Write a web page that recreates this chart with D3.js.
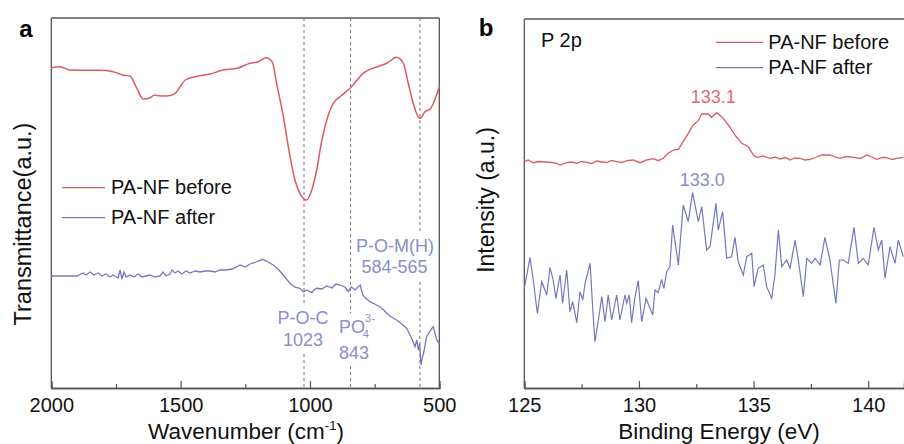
<!DOCTYPE html>
<html>
<head>
<meta charset="utf-8">
<script src="https://cdn.jsdelivr.net/npm/d3@7"></script>
<style>
  body { margin: 0; background: #fff; }
  text { font-family: "Liberation Sans", Arial, sans-serif; }
</style>
</head>
<body>
<script>
// ---- panel a : FTIR ----
var irBeforeWn = [2000, 1966, 1928, 1850, 1812, 1761, 1719, 1696, 1670, 1645, 1618, 1600, 1587, 1553, 1521, 1500, 1482, 1444, 1386, 1336, 1282, 1232, 1200, 1170, 1146, 1129, 1103, 1077, 1058, 1039, 1013, 993, 974, 955, 935, 910, 884, 845, 794, 729, 703, 665, 639, 620, 601, 575, 555, 536, 523, 500];
var irBeforeT = [320.3, 321.3, 318, 317.7, 317.7, 316.3, 312.7, 312, 300, 289, 290.3, 293, 292.3, 292, 294.7, 302, 308, 311.3, 314, 318, 319.7, 324.7, 326.3, 330.3, 326.3, 304.7, 271.3, 231.3, 208, 194.7, 188, 198, 218, 246.3, 268, 284.7, 291.3, 299.7, 314.7, 322.3, 324.7, 330.7, 324.7, 304.7, 284.7, 269.7, 276.3, 278.7, 284.7, 301.3];

var irAfterWn = [2000, 1901, 1877, 1866, 1850, 1835, 1819, 1804, 1789, 1773, 1761, 1742, 1734, 1727, 1719, 1711, 1696, 1680, 1665, 1649, 1634, 1618, 1599, 1580, 1568, 1557, 1541, 1533, 1522, 1510, 1495, 1479, 1464, 1444, 1425, 1406, 1386, 1367, 1348, 1325, 1301, 1270, 1251, 1232, 1209, 1182, 1162, 1142, 1120, 1103, 1077, 1060, 1039, 1025, 1013, 993, 985, 974, 955, 935, 915, 900, 884, 865, 852, 840, 826, 806, 796, 785, 768, 750, 729, 715, 703, 685, 665, 645, 626, 607, 594, 587, 581, 576, 571, 566, 561, 549, 529, 523, 510, 500];
var irAfterT = [112, 112, 115, 113, 116, 113, 115, 112, 114, 111, 113, 110, 118, 109, 116, 111, 113, 111, 114, 111, 112, 113, 111, 112, 116, 112, 114, 118, 115, 117, 114, 117, 115, 117, 116, 117, 117, 116, 118, 118, 119, 123, 121, 124, 126, 128.7, 126, 123, 118, 113, 104.7, 101, 99.7, 96, 98, 95.3, 98, 99.7, 99, 102, 100, 104, 103, 101, 96.3, 101, 98, 103, 93, 90, 86.3, 84, 81.3, 78, 74.7, 71, 68, 64, 59.7, 49.7, 41.3, 48, 38, 44, 23, 30, 34.7, 51.3, 59.7, 61.3, 48, 44.7];

var irMarks = [1023, 843, 575];
var irTicks = [2000, 1500, 1000, 500];
var irMinor = [1750, 1250, 750];

// ---- panel b : XPS P 2p ----
var xpsBeforeBE = [125.0, 125.17, 125.39, 125.6, 125.98, 126.2, 126.41, 126.56, 126.85, 127.05, 127.29, 127.5, 127.72, 127.95, 128.16, 128.4, 128.59, 128.8, 129.03, 129.25, 129.47, 129.75, 130.05, 130.34, 130.63, 130.84, 131.06, 131.28, 131.5, 131.72, 131.93, 132.15, 132.37, 132.59, 132.74, 133.02, 133.17, 133.39, 133.61, 133.9, 134.19, 134.48, 134.77, 134.99, 135.14, 135.42, 135.72, 135.95, 136.15, 136.4, 136.59, 136.8, 137.03, 137.25, 137.46, 137.7, 137.97, 138.33, 138.55, 138.77, 139.05, 139.35, 139.65, 139.93, 140.15, 140.37, 140.6, 140.8, 141.05, 141.24, 141.53];
var xpsBefore = [226.3, 228, 225.3, 226.5, 226, 225.5, 224.7, 223, 225.3, 226, 224.7, 226.5, 225.7, 224.5, 227, 226, 225.3, 227.5, 226.3, 225.5, 227.3, 228, 225.3, 228, 229.3, 227.3, 229.7, 234.7, 238, 238.7, 246.3, 254.7, 263, 267.3, 274, 274, 270.7, 275.3, 271.3, 263, 253, 244.7, 241.3, 233, 230.7, 232, 229.7, 231, 229, 230.5, 228, 230, 229.7, 228, 228.7, 230.5, 233, 233, 231, 229.7, 231.5, 230.7, 229.5, 233, 231, 228.7, 230.5, 230.3, 228.5, 229.7, 230.7];

var xpsAfterBE = [125.0, 125.25, 125.39, 125.57, 125.76, 125.9, 125.98, 126.12, 126.26, 126.38, 126.56, 126.67, 126.85, 126.99, 127.11, 127.29, 127.43, 127.55, 127.65, 127.87, 127.98, 128.08, 128.23, 128.38, 128.52, 128.66, 128.81, 129.03, 129.17, 129.39, 129.47, 129.58, 129.68, 129.83, 129.97, 130.12, 130.31, 130.48, 130.6, 130.7, 130.84, 130.99, 131.09, 131.21, 131.35, 131.47, 131.72, 131.93, 132.15, 132.34, 132.59, 132.74, 132.95, 133.1, 133.36, 133.46, 133.65, 133.83, 134.04, 134.19, 134.33, 134.55, 134.7, 134.92, 135.02, 135.2, 135.42, 135.57, 135.79, 135.93, 136.08, 136.23, 136.44, 136.59, 136.81, 136.95, 137.17, 137.32, 137.53, 137.68, 137.9, 138.11, 138.33, 138.59, 138.74, 138.91, 139.13, 139.38, 139.57, 139.78, 140.0, 140.25, 140.44, 140.59, 140.73, 140.95, 141.17, 141.31, 141.53];
var xpsAfter = [99.7, 130.7, 108, 74.7, 106.3, 98, 93, 120.7, 108, 89.7, 113, 84.7, 118, 76.3, 86.3, 65.3, 96.3, 88, 104.7, 124.7, 81.3, 46.3, 68, 91.3, 66.3, 93, 68, 93, 68, 93, 84.7, 93, 65.3, 91.3, 107.3, 66.3, 89.7, 79.7, 73, 98, 95.3, 108.7, 99.7, 116.3, 121.3, 163, 123, 183, 166.3, 195.3, 166.3, 181.3, 138, 141.3, 184.7, 158, 176.3, 129.7, 131.3, 150.7, 126.3, 113, 131.3, 134.7, 101.3, 119.7, 123, 101.3, 89.7, 113, 158, 121.3, 128, 119.7, 148, 128, 91.3, 129.7, 124.7, 129.7, 123, 150.7, 128, 84.7, 128, 128, 124.7, 160.7, 124.7, 129.7, 123, 160.7, 138, 148, 109.7, 141.3, 124.7, 148, 131.3];

var xpsTicks = [125, 130, 135, 140];
var xpsMinor = [127.5, 132.5, 137.5];

var red = "#d95c62", blue = "#7579bb";
var redText = "#e06b6e", blueText = "#8a8ecb";
var W = 904, H = 444;
var top_ = 18, bottom = 388;

var svg = d3.select("body").append("svg")
  .attr("width", W).attr("height", H);

var yA = d3.scaleLinear().domain([0, 370]).range([bottom, top_]);
var xA = d3.scaleLinear().domain([2000, 500]).range([51.3, 439.3]);
var xB = d3.scaleLinear().domain([125, 141.56]).range([524.3, 904]);
var yB = d3.scaleLinear().domain([0, 370]).range([bottom, top_]);

function axisStyle(g) {
  g.select(".domain").attr("stroke", "#555").attr("stroke-width", 1.3);
  g.selectAll(".tick line").attr("stroke", "#555").attr("stroke-width", 1.2);
  g.selectAll(".tick text").attr("font-size", 20).attr("fill", "#111")
    .attr("font-family", "Liberation Sans, Arial, sans-serif");
}

// ----- panel a -----
var ga = svg.append("g");

// frame
ga.append("line").attr("x1", xA(2000)).attr("x2", xA(500)).attr("y1", top_).attr("y2", top_).attr("stroke", "#555").attr("stroke-width", 1.3);
ga.append("line").attr("x1", xA(500)).attr("x2", xA(500)).attr("y1", top_).attr("y2", bottom).attr("stroke", "#555").attr("stroke-width", 1.3);
ga.append("line").attr("x1", xA(2000)).attr("x2", xA(2000)).attr("y1", top_).attr("y2", bottom).attr("stroke", "#555").attr("stroke-width", 1.3);

ga.append("g").attr("transform", "translate(0," + bottom + ")")
  .call(d3.axisBottom(xA).tickValues(irTicks).tickSize(-7).tickPadding(10).tickFormat(d3.format("d")))
  .call(axisStyle);
ga.append("g").attr("transform", "translate(0," + bottom + ")")
  .call(d3.axisBottom(xA).tickValues(irMinor).tickSize(-4).tickFormat(""))
  .call(axisStyle);

// dashed markers
ga.selectAll(".mark").data(irMarks).enter().append("line")
  .attr("x1", d => xA(d)).attr("x2", d => xA(d))
  .attr("y1", top_).attr("y2", bottom)
  .attr("stroke", "#777").attr("stroke-width", 1).attr("stroke-dasharray", "3,3");

var lineA = d3.line().x(d => xA(d[0])).y(d => yA(d[1]));
ga.append("path").datum(d3.zip(irBeforeWn, irBeforeT))
  .attr("d", lineA.curve(d3.curveMonotoneX)).attr("fill", "none").attr("stroke", red).attr("stroke-width", 1.5);
ga.append("path").datum(d3.zip(irAfterWn, irAfterT))
  .attr("d", d3.line().x(d => xA(d[0])).y(d => yA(d[1]))).attr("fill", "none").attr("stroke", blue).attr("stroke-width", 1.3);

// band labels sit on white boxes that hide the dashed lines
function labelBox(g, cx, y0, w, h) {
  g.append("rect").attr("x", cx - w / 2).attr("y", y0).attr("width", w).attr("height", h)
    .attr("rx", 6).attr("fill", "#fff").attr("stroke", "none");
}
labelBox(ga, 395, 232, 84, 48);
labelBox(ga, 303, 305, 56, 47);
labelBox(ga, 354, 313, 40, 52);

function t(g, x, y, s, size, fill, anchor) {
  return g.append("text").attr("x", x).attr("y", y).attr("font-size", size)
    .attr("fill", fill).attr("text-anchor", anchor || "middle").text(s);
}
t(ga, 395, 251.7, "P-O-M(H)", 18, blueText);
t(ga, 394.5, 273.3, "584-565", 18, blueText);
t(ga, 303, 324, "P-O-C", 18, blueText);
t(ga, 303, 346, "1023", 18, blueText);
var po = ga.append("text").attr("x", 339).attr("y", 333.3).attr("font-size", 18).attr("fill", blueText);
po.append("tspan").text("PO");
po.append("tspan").attr("font-size", 11).attr("dy", -11).text("3-");
po.append("tspan").attr("font-size", 11).attr("dx", -12).attr("dy", 16).text("4");
t(ga, 354, 359, "843", 18, blueText);

// legend a
ga.append("line").attr("x1", 62).attr("x2", 105).attr("y1", 187.7).attr("y2", 187.7).attr("stroke", red).attr("stroke-width", 1.3);
ga.append("line").attr("x1", 62).attr("x2", 105).attr("y1", 217.7).attr("y2", 217.7).attr("stroke", blue).attr("stroke-width", 1.3);
t(ga, 111, 194.3, "PA-NF before", 20, "#111", "start");
t(ga, 111, 224.3, "PA-NF after", 20, "#111", "start");

// titles a
t(ga, 26, 36.7, "a", 24, "#000").attr("font-weight", "bold");
var xtA = ga.append("text").attr("x", 246).attr("y", 439).attr("font-size", 22.5).attr("text-anchor", "middle").attr("fill", "#111");
xtA.append("tspan").text("Wavenumber (cm");
xtA.append("tspan").attr("font-size", 13).attr("dy", -9).text("-1");
xtA.append("tspan").attr("dy", 9).text(")");
ga.append("text").attr("transform", "translate(31,224) rotate(-90)").attr("font-size", 23.5)
  .attr("text-anchor", "middle").attr("fill", "#111").text("Transmittance(a.u.)");

// ----- panel b -----
var gb = svg.append("g");
gb.append("line").attr("x1", xB(125)).attr("x2", W).attr("y1", top_ + 1).attr("y2", top_ + 1).attr("stroke", "#555").attr("stroke-width", 1.3);
gb.append("line").attr("x1", xB(125)).attr("x2", xB(125)).attr("y1", top_ + 1).attr("y2", bottom).attr("stroke", "#555").attr("stroke-width", 1.3);

gb.append("g").attr("transform", "translate(0," + bottom + ")")
  .call(d3.axisBottom(xB).tickValues(xpsTicks).tickSize(-7).tickPadding(10).tickFormat(d3.format("d")))
  .call(axisStyle);
gb.append("g").attr("transform", "translate(0," + bottom + ")")
  .call(d3.axisBottom(xB).tickValues(xpsMinor).tickSize(-4).tickFormat(""))
  .call(axisStyle);

var lineB = d3.line().x(d => xB(d[0])).y(d => yB(d[1]));
gb.append("path").datum(d3.zip(xpsBeforeBE, xpsBefore))
  .attr("d", lineB).attr("fill", "none").attr("stroke", red).attr("stroke-width", 1.3);
gb.append("path").datum(d3.zip(xpsAfterBE, xpsAfter))
  .attr("d", lineB).attr("fill", "none").attr("stroke", blue).attr("stroke-width", 1.2);

t(gb, 713.3, 103.3, "133.1", 18, redText);
t(gb, 702.3, 186, "133.0", 18, blueText);
t(gb, 541, 47.3, "P 2p", 20, "#111", "start");

gb.append("line").attr("x1", 715.7).attr("x2", 763.3).attr("y1", 42.3).attr("y2", 42.3).attr("stroke", red).attr("stroke-width", 1.3);
gb.append("line").attr("x1", 715.7).attr("x2", 763.3).attr("y1", 67.7).attr("y2", 67.7).attr("stroke", blue).attr("stroke-width", 1.3);
t(gb, 768.3, 49, "PA-NF before", 20, "#111", "start");
t(gb, 768.3, 74.3, "PA-NF after", 20, "#111", "start");

t(gb, 486, 36, "b", 24, "#000").attr("font-weight", "bold");
t(gb, 719, 439, "Binding Energy (eV)", 22.5, "#111");
gb.append("text").attr("transform", "translate(494,200) rotate(-90)").attr("font-size", 23)
  .attr("text-anchor", "middle").attr("fill", "#111").text("Intensity (a.u.)");
</script>
</body>
</html>
